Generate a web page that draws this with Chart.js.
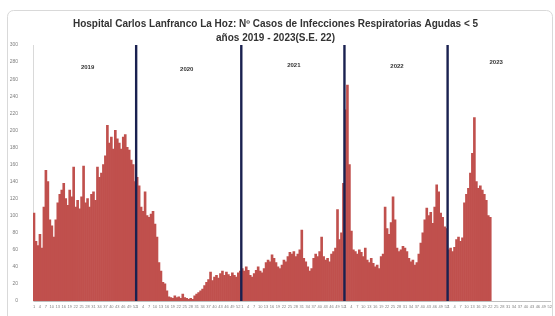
<!DOCTYPE html>
<html>
<head>
<meta charset="utf-8">
<script src="https://cdn.jsdelivr.net/npm/chart.js@4"></script>
<style>
html, body { margin: 0; padding: 0; background: #fff; }
#wrap { width: 555px; height: 316px; }
</style>
</head>
<body>
<div id="wrap"><canvas id="chart"></canvas></div>
<script>
const years = ["2019", "2020", "2021", "2022", "2023"];
const weeksPerYear = [52, 53, 52, 52, 52];

const cases2019 = [103, 70, 65, 78, 62, 110, 153, 140, 95, 88, 75, 95, 115, 125, 130, 138, 120, 112, 130, 122,
    157, 110, 118, 108, 122, 158, 115, 120, 110, 125, 128, 118, 157, 145, 150, 160, 170, 206, 185, 192,
    178, 200, 190, 185, 178, 192, 195, 180, 177, 165, 160, 140];
const cases2020 = [145, 135, 110, 105, 128, 100, 98, 102, 105, 90, 75, 45, 35, 22, 20, 12, 5, 4, 3, 6,
    4, 5, 3, 8, 4, 3, 2, 3, 2, 6, 8, 10, 12, 14, 18, 22, 25, 34, 24, 28,
    30, 27, 32, 35, 30, 34, 31, 29, 33, 30, 28, 33, 35];
const cases2021 = [38, 35, 40, 36, 30, 28, 32, 36, 40, 35, 33, 38, 45, 48, 46, 54, 50, 45, 40, 38,
    42, 48, 46, 52, 57, 55, 58, 52, 55, 60, 83, 50, 46, 40, 35, 38, 50, 55, 52, 58,
    75, 52, 48, 50, 46, 55, 58, 62, 107, 72, 80, 138];
const cases2022 = [224, 253, 160, 82, 60, 58, 55, 60, 57, 52, 62, 48, 45, 50, 44, 40, 42, 38, 52, 55,
    110, 85, 78, 92, 122, 95, 62, 58, 60, 64, 62, 58, 50, 46, 48, 42, 45, 55, 68, 80,
    95, 109, 100, 104, 91, 110, 136, 128, 103, 98, 87, 85];
const cases2023 = [60, 62, 58, 63, 72, 75, 70, 74, 115, 125, 132, 150, 173, 215, 140, 132, 135, 130, 125, 118,
    100, 98];

const yTicks = { min: 0, max: 300, step: 20 };

// week labels for every year, one category per epidemiological week
const labels = [];
weeksPerYear.forEach(n => { for (let w = 1; w <= n; w++) labels.push(String(w)); });

const series = [cases2019, cases2020, cases2021, cases2022, cases2023];
const values = [];
series.forEach((arr, i) => {
    for (let w = 0; w < weeksPerYear[i]; w++) values.push(w < arr.length ? arr[w] : null);
});

/* year dividers + year names */
const yearMarks = {
    id: "yearMarks",
    afterDatasetsDraw(chart) {
        const { ctx, chartArea: a, scales: { x } } = chart;
        const labelWeek = [28, 26, 27, 27, 25];
        const labelY = [67, 69, 65, 66, 62];
        ctx.save();
        let start = 0;
        weeksPerYear.forEach((n, i) => {
            if (i > 0) {
                const px = (x.getPixelForValue(start - 1) + x.getPixelForValue(start)) / 2;
                ctx.strokeStyle = "#1a2150";
                ctx.lineWidth = 2.4;
                ctx.beginPath();
                ctx.moveTo(px, a.top);
                ctx.lineTo(px, a.bottom);
                ctx.stroke();
            }
            ctx.fillStyle = "#333";
            ctx.font = "bold 6px 'Liberation Sans'";
            ctx.textAlign = "center";
            ctx.textBaseline = "middle";
            ctx.fillText(years[i], x.getPixelForValue(start + labelWeek[i] - 1), labelY[i]);
            start += n;
        });
        ctx.restore();
    }
};

/* rounded frame like the spreadsheet chart box */
const frame = {
    id: "frame",
    beforeDraw(chart) {
        const ctx = chart.ctx;
        ctx.save();
        ctx.fillStyle = "#fff";
        ctx.fillRect(0, 0, chart.width, chart.height);
        ctx.strokeStyle = "#d9d9d9";
        ctx.lineWidth = 1;
        ctx.beginPath();
        ctx.roundRect(7.5, 10.5, 545, 312, 6);
        ctx.stroke();
        ctx.restore();
    }
};

new Chart(document.getElementById("chart"), {
    type: "bar",
    data: {
        labels: labels,
        datasets: [{
            label: "Casos IRA < 5 años",
            data: values,
            backgroundColor: "#c0504d",
            borderWidth: 0,
            barPercentage: 1,
            categoryPercentage: 1
        }]
    },
    options: {
        responsive: true,
        maintainAspectRatio: false,
        animation: false,
        layout: { padding: { left: 0, right: 4, top: 17, bottom: 2 } },
        plugins: {
            legend: { display: false },
            tooltip: { enabled: false },
            title: {
                display: true,
                text: ["Hospital Carlos Lanfranco La Hoz: Nº Casos de Infecciones Respiratorias Agudas < 5",
                    "años 2019 - 2023(S.E. 22)"],
                color: "#333",
                font: { family: "'Liberation Sans'", size: 10, weight: "bold", lineHeight: 1.4 },
                padding: { top: 0, bottom: 0 }
            }
        },
        scales: {
            x: {
                grid: { display: false, drawTicks: false },
                border: { color: "#bfbfbf" },
                ticks: {
                    autoSkip: false,
                    maxRotation: 0,
                    minRotation: 0,
                    padding: 3,
                    color: "#7f7f7f",
                    font: { size: 4, family: "'Liberation Sans'" },
                    callback: function (v) {
                        const w = Number(labels[v]);
                        return (w - 1) % 3 === 0 ? labels[v] : "";
                    }
                },
                afterFit(s) { s.height = 13; }
            },
            y: {
                min: yTicks.min,
                max: yTicks.max,
                grid: { display: false },
                border: { color: "#d9d9d9" },
                ticks: {
                    stepSize: yTicks.step,
                    padding: 7,
                    color: "#7f7f7f",
                    font: { size: 5, family: "'Liberation Sans'" }
                },
                afterFit(s) { s.width = 33; }
            }
        }
    },
    plugins: [frame, yearMarks]
});
</script>
</body>
</html>
